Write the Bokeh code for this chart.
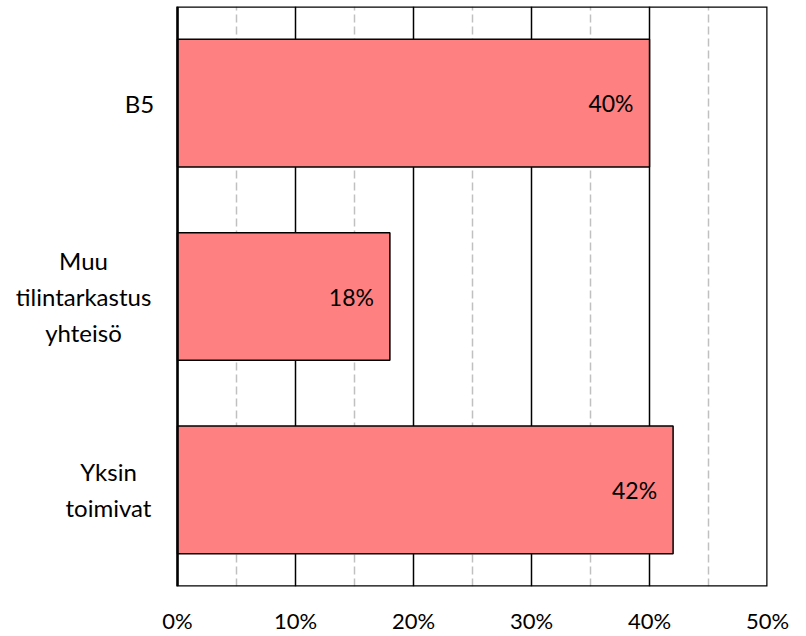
from bokeh.plotting import figure
from bokeh.models import FactorRange, Range1d, FixedTicker, PrintfTickFormatter, ColumnDataSource
from bokeh.core.properties import value
from bokeh.embed import file_html
from bokeh.resources import INLINE

categories = ["Yksin toimivat", "Muu tilintarkastus yhteisö", "B5"]
category_labels = ["Yksin\ntoimivat", "Muu\ntilintarkastus\nyhteisö", "B5"]
values = [42, 18, 40]
value_labels = ["42%", "18%", "40%"]
major_ticks = [0, 10, 20, 30, 40, 50]
minor_ticks = [5, 15, 25, 35, 45]

FONT = "Lato"
FS = "22px"

src = ColumnDataSource(dict(cat=categories, val=values, lab=value_labels))

# x range extends left of 0 to leave room for the category labels inside the frame
p = figure(y_range=FactorRange(*categories), x_range=Range1d(-15, 50),
           frame_width=767, frame_height=580,
           min_border_left=0, min_border_right=31, min_border_top=6, min_border_bottom=10,
           output_backend="svg", toolbar_location=None)

p.hbar(y="cat", right="val", left=0, height=0.66, source=src,
       fill_color="#FF8080", line_color="black", line_width=1.5)

p.text(x="val", y="cat", text="lab", source=src, x_offset=-16,
       text_align="right", text_baseline="middle",
       text_font=value(FONT), text_font_size="23px", text_color="black")

# plot-area border from 0% to 50%
p.quad(left=[major_ticks[0]], right=[major_ticks[-1]], bottom=[0], top=[len(categories)],
       fill_color=None, line_color="black", line_width=2.5)

# category labels (multi-line, lines centred), offsets in px from the 0% line
label_offsets = [-69, -94, -38]
lsrc = ColumnDataSource(dict(cat=categories, lab=category_labels, off=label_offsets,
                             x=[0] * len(categories)))
p.text(x="x", y="cat", text="lab", x_offset="off", source=lsrc,
       text_align="center", text_baseline="middle", text_line_height=1.24,
       text_font=value(FONT), text_font_size="24px", text_color="black")

p.xaxis.ticker = FixedTicker(ticks=major_ticks, minor_ticks=minor_ticks)
p.xaxis.formatter = PrintfTickFormatter(format="%d%%")
p.xaxis.axis_line_color = None
p.xaxis.major_tick_line_color = None
p.xaxis.minor_tick_line_color = None
p.xaxis.major_label_standoff = 14
p.xaxis.major_label_text_font = FONT
p.xaxis.major_label_text_font_size = FS
p.xaxis.major_label_text_color = "black"

p.yaxis.visible = False

p.ygrid.grid_line_color = None
p.xgrid.grid_line_color = "black"
p.xgrid.grid_line_width = 1.5
p.xgrid.minor_grid_line_color = "#C0C0C0"
p.xgrid.minor_grid_line_width = 1.5
p.xgrid.minor_grid_line_dash = "8 4"

p.outline_line_color = None

open("out.html", "w").write(file_html(p, INLINE))
